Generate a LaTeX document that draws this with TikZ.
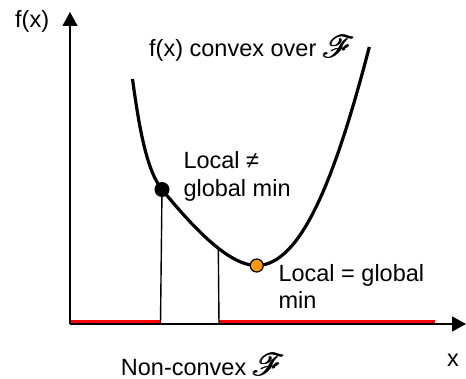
\documentclass[tikz,border=0pt]{standalone}
\usepackage{fontspec}
\setmainfont{Liberation Sans}
\usepackage{amsmath}
\usepackage{mathrsfs}
\usetikzlibrary{arrows.meta}
\definecolor{dotorange}{RGB}{255,153,0}
\newcommand{\scrF}{\raisebox{-1pt}{\scalebox{1.25}{$\pmb{\mathscr{F}}$}}}
\begin{document}
\begin{tikzpicture}[x=1pt,y=-1pt,
  lbl/.style={anchor=base west,inner sep=0pt,font=\fontsize{23.5}{28}\selectfont},
  axis/.style={line width=1.1pt,-{Triangle[length=14pt,width=15pt]}},
  redseg/.style={draw=red,line width=3pt},
  drop/.style={line width=1.4pt},
  curve/.style={line width=3.2pt,line cap=butt}]
\useasboundingbox (0,0) rectangle (466,379);
\coordinate (O) at (70,324);
\coordinate (ytop) at (70,12);
\coordinate (xend) at (466,324);
\draw[axis] (O) -- (ytop);
\draw[axis] (O) -- (xend);
\coordinate (r1a) at (71,322); \coordinate (r1b) at (159.5,322);
\coordinate (r2a) at (219,321.5); \coordinate (r2b) at (435,321.5);
\draw[redseg] (r1a) -- (r1b);
\draw[redseg] (r2a) -- (r2b);
\coordinate (cstart) at (132.5,79);
\coordinate (blk) at (162,189.5);
\coordinate (org) at (256.7,265.5);
\coordinate (cend) at (369.3,47);
\coordinate (v1b) at (160.5,324);
\coordinate (v2t) at (218.3,248.5);
\coordinate (v2b) at (219,324);
\draw[drop] (blk) -- (v1b);
\draw[drop] (v2t) -- (v2b);
\draw[curve] (cstart) .. controls (139.25,129) and (147,171.2) .. (blk)
  .. controls (200,236) and (231.7,265.5) .. (org)
  .. controls (301.7,265.5) and (336,175) .. (cend);
\node[circle,fill=black,minimum size=15pt,inner sep=0pt] (bd) at (blk) {};
\node[circle,fill=dotorange,draw=black,line width=1.2pt,minimum size=13pt,inner sep=0pt] (od) at (org) {};
\node[lbl] (fx) at (15,28) {f(x)};
\node[lbl] (conv) at (149,57) {f(x) convex over \scrF};
\node[lbl] (ln1) at (183.3,169) {Local ≠};
\node[lbl] (ln2) at (183.3,196.7) {global min};
\node[lbl] (le1) at (278.3,281.7) {Local = global};
\node[lbl] (le2) at (278.3,309) {min};
\node[lbl] (nc) at (120.7,375) {Non-convex \scrF};
\node[lbl] (xl) at (447,366.7) {x};
\end{tikzpicture}
\end{document}
